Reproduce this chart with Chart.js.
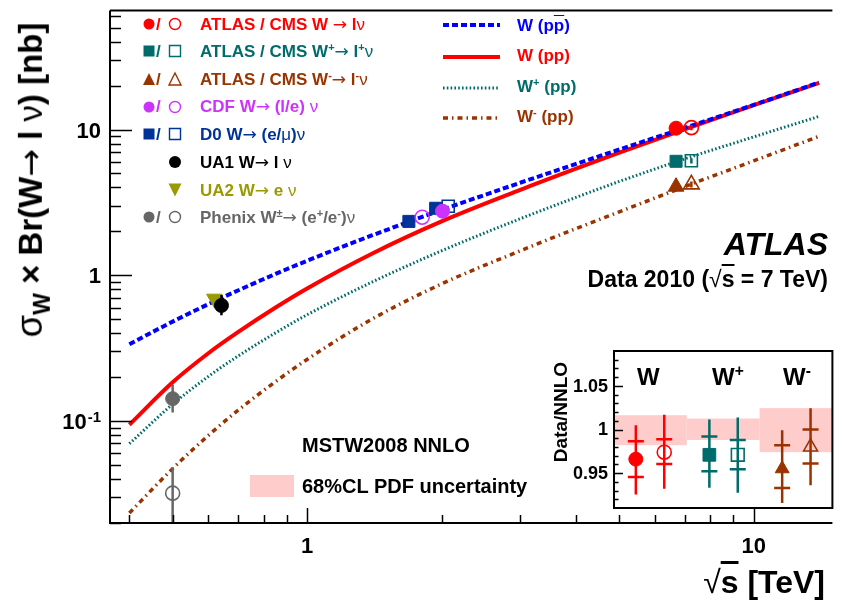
<!DOCTYPE html>
<html>
<head>
<meta charset="utf-8">
<script src="https://cdn.jsdelivr.net/npm/chart.js@4.4.0/dist/chart.umd.min.js"></script>
<style>
  body { margin: 0; background: #fff; }
  #wrap { position: relative; width: 843px; height: 600px; overflow: hidden;
          font-family: "Liberation Sans", Arial, sans-serif; font-weight: bold; }
  canvas { position: absolute; }
  .t { position: absolute; white-space: nowrap; line-height: 1; }
  .sup { font-size: 0.65em; position: relative; top: -0.55em; }
  .gr { font-weight: normal; }
  .ar { font-family: "DejaVu Sans", sans-serif; font-weight: normal; }
  .leg { font-size: 17px; }
</style>
</head>
<body>
<div id="wrap">
  <canvas id="main" width="843" height="600" style="left:0;top:0"></canvas>
  <canvas id="inset" width="303" height="180" style="left:540px;top:340px"></canvas>

  <!-- legend, left column -->
  <div class="t leg" style="left:156px;top:15.6px;color:#f00">/</div>
  <div class="t leg" style="left:200px;top:15.6px;color:#f00">ATLAS / CMS W <span class="ar">→</span> l<span class="gr">ν</span></div>
  <div class="t leg" style="left:156px;top:42.9px;color:#006b6b">/</div>
  <div class="t leg" style="left:200px;top:42.9px;color:#006b6b">ATLAS / CMS W<span class="sup">+</span><span class="ar">→</span> l<span class="sup">+</span><span class="gr">ν</span></div>
  <div class="t leg" style="left:156px;top:70.6px;color:#993300">/</div>
  <div class="t leg" style="left:200px;top:70.6px;color:#993300">ATLAS / CMS W<span class="sup">-</span><span class="ar">→</span> l<span class="sup">-</span><span class="gr">ν</span></div>
  <div class="t leg" style="left:156px;top:98.3px;color:#cc33ff">/</div>
  <div class="t leg" style="left:200px;top:98.3px;color:#cc33ff">CDF W<span class="ar">→</span> (l/e) <span class="gr">ν</span></div>
  <div class="t leg" style="left:156px;top:125.6px;color:#003399">/</div>
  <div class="t leg" style="left:200px;top:125.6px;color:#003399">D0 W<span class="ar">→</span> (e/<span class="gr">μ</span>)<span class="gr">ν</span></div>
  <div class="t leg" style="left:200px;top:153.9px;color:#000">UA1 W<span class="ar">→</span> l <span class="gr">ν</span></div>
  <div class="t leg" style="left:200px;top:181.6px;color:#999900">UA2 W<span class="ar">→</span> e <span class="gr">ν</span></div>
  <div class="t leg" style="left:156px;top:208.9px;color:#666">/</div>
  <div class="t leg" style="left:200px;top:208.9px;color:#666">Phenix W<span class="sup">±</span><span class="ar">→</span> (e<span class="sup">+</span>/e<span class="sup">-</span>)<span class="gr">ν</span></div>

  <!-- legend, right column -->
  <div class="t leg" style="left:517px;top:16.6px;color:#00f">W (p<span style="text-decoration:overline">p</span>)</div>
  <div class="t leg" style="left:517px;top:46.6px;color:#f00">W (pp)</div>
  <div class="t leg" style="left:517px;top:77.6px;color:#006b6b">W<span class="sup">+</span> (pp)</div>
  <div class="t leg" style="left:517px;top:107.6px;color:#993300">W<span class="sup">-</span> (pp)</div>

  <!-- axis titles -->
  <div class="t" style="left:30px;top:180px;font-size:33px;transform:translate(-50%,-50%) rotate(-90deg)"><span class="gr" style="font-size:1.1em">σ</span><span style="font-size:0.7em;position:relative;top:0.35em">W</span> × Br(W<span class="ar">→</span> l <span class="gr">ν</span>) [nb]</div>
  <div class="t" style="right:18px;top:566px;font-size:32px"><span class="gr">√</span><span style="text-decoration:overline">s</span> [TeV]</div>

  <!-- labels -->
  <div class="t" style="right:15px;top:228px;font-size:32px;font-style:italic">ATLAS</div>
  <div class="t" style="right:15px;top:267.5px;font-size:23px">Data 2010 (<span class="gr">√</span><span style="text-decoration:overline">s</span> = 7 TeV)</div>
  <div class="t" style="left:302px;top:435px;font-size:20px">MSTW2008 NNLO</div>
  <div style="position:absolute;left:250px;top:475px;width:44px;height:22px;background:#ffcccc"></div>
  <div class="t" style="left:302px;top:476px;font-size:20px">68%CL PDF uncertainty</div>

  <!-- inset labels -->
  <div class="t" style="left:560px;top:412px;font-size:19px;transform:translate(-50%,-50%) rotate(-90deg)">Data/NNLO</div>
  <div class="t" style="left:637px;top:365px;font-size:24px">W</div>
  <div class="t" style="left:712px;top:365px;font-size:24px">W<span class="sup">+</span></div>
  <div class="t" style="left:783px;top:365px;font-size:24px">W<span class="sup">-</span></div>
</div>

<script>
// ---- theory curves (MSTW2008 NNLO): sqrt(s) [TeV] vs sigma x BR [nb] ----
const energies = [0.4, 0.5, 0.6, 0.7, 0.85, 1, 1.4, 2, 3, 4, 5, 7, 10, 14];
const wPPbar   = [0.336, 0.48, 0.631, 0.785, 1.02, 1.256, 1.88, 2.80, 4.31, 5.80, 7.29, 10.25, 14.76, 21.0];
const wPP      = [0.094, 0.184, 0.290, 0.406, 0.600, 0.811, 1.41, 2.34, 3.85, 5.38, 6.93, 10.03, 14.7, 20.9];
const wPlusPP  = [0.0697, 0.130, 0.201, 0.278, 0.402, 0.535, 0.899, 1.47, 2.44, 3.42, 4.40, 6.28, 8.9, 12.3];
const wMinusPP = [0.0233, 0.047, 0.079, 0.118, 0.186, 0.264, 0.501, 0.871, 1.47, 2.09, 2.72, 4.05, 6.1, 8.97];

// ---- measurements (energies shifted a little for visibility, as in the plot) ----
const lhcE      = [6.7, 7.25];          // ATLAS, CMS
const lhcW      = [10.21, 10.3];
const lhcWplus  = [6.05, 6.1];
const lhcWminus = [4.05, 4.2];
const cmsErrLo  = [9.9, 5.85, 4.0];     // W, W+, W-
const cmsErrHi  = [10.7, 6.35, 4.4];
const cdfE = [2.01, 1.81];               // filled, open
const cdfW = [2.75, 2.50];
const d0E  = [1.69, 1.94, 2.07];         // filled, filled, open
const d0W  = [2.34, 2.88, 2.97];
const ua1E = [0.643], ua1W = [0.62], ua1Lo = [0.53], ua1Hi = [0.73];
const ua2E = [0.62],  ua2W = [0.69];
const phenixE  = [0.5, 0.5];             // filled, open
const phenixW  = [0.142, 0.0319];
const phenixLo = [0.114, 0.0195];
const phenixHi = [0.178, 0.048];

// ---- inset: Data / NNLO ----
const insetPos    = [0.30, 0.69, 1.31, 1.70, 2.31, 2.70];  // ATLAS W, CMS W, ATLAS W+, CMS W+, ATLAS W-, CMS W-
const insetRatio  = [0.966, 0.974, 0.971, 0.971, 0.955, 0.980];
const insetStatLo = [0.9455, 0.9605, 0.952, 0.9544, 0.933, 0.961];
const insetStatHi = [0.9866, 0.9888, 0.992, 0.988, 0.982, 1.000];
const insetTotLo  = [0.9256, 0.932, 0.9333, 0.9276, 0.9157, 0.936];
const insetTotHi  = [1.005, 1.0168, 1.0115, 1.0138, 0.999, 1.0245];
const bandEdges   = [0, 1, 2, 3];
const bandLo      = [0.982, 0.988, 0.974];
const bandHi      = [1.0164, 1.0126, 1.0245];

// ---- tick labels ----
const yTickVals = [0.1, 1, 10];
const yTickBase = ['10', '1', '10'];
const yTickSup  = ['-1', '', ''];
const xTickVals = [1, 10];
const xTickText = ['1', '10'];
const insetTickVals = [0.95, 1, 1.05];
const insetTickText = ['0.95', '1', '1.05'];

// ---- colours ----
const C_RED    = '#ff0000';
const C_TEAL   = '#006b6b';
const C_BROWN  = '#993300';
const C_PURPLE = '#cc33ff';
const C_NAVY   = '#003399';
const C_BLUE   = '#0000ff';
const C_OLIVE  = '#999900';
const C_GREY   = '#666666';
const C_PINK   = '#ffcccc';
const NONE     = 'rgba(0,0,0,0)';
const FONT     = '"Liberation Sans", Arial, sans-serif';

const pts = (xs, ys) => xs.map((x, i) => ({ x, y: ys[i] }));

function markers(data, style, color, filled, r, extra) {
  return Object.assign({
    data, pointStyle: style, pointRadius: r, pointHoverRadius: r,
    backgroundColor: filled ? color : NONE, borderColor: color,
    borderWidth: filled ? 1 : 1.6, showLine: false, order: 1
  }, extra || {});
}

function curve(ys, color, width, dash) {
  return {
    data: pts(energies, ys), showLine: true, borderColor: color, backgroundColor: color,
    borderWidth: width, borderDash: dash, pointRadius: 0, pointHoverRadius: 0,
    cubicInterpolationMode: 'monotone', fill: false, order: 2
  };
}

const DASH_BLUE  = [6, 3];
const DASH_TEAL  = [1.6, 2.2];
const DASH_BROWN = [5, 4, 1.5, 4];

// simple marker for the legend
function drawMarker(ctx, style, x, y, s, color, filled) {
  ctx.save();
  ctx.fillStyle = color; ctx.strokeStyle = color; ctx.lineWidth = 1.4;
  ctx.beginPath();
  if (style === 'circle') ctx.arc(x, y, s / 2, 0, Math.PI * 2);
  else if (style === 'rect') ctx.rect(x - s / 2, y - s / 2, s, s);
  else if (style === 'tri') { ctx.moveTo(x, y - s / 2); ctx.lineTo(x + s / 2, y + s / 2); ctx.lineTo(x - s / 2, y + s / 2); ctx.closePath(); }
  else if (style === 'triDown') { ctx.moveTo(x, y + s / 2); ctx.lineTo(x + s / 2, y - s / 2); ctx.lineTo(x - s / 2, y - s / 2); ctx.closePath(); }
  if (filled) ctx.fill(); else ctx.stroke();
  ctx.restore();
}

// vertical error bars, drawn just before the markers of a dataset
const errorBars = {
  id: 'errorBars',
  beforeDatasetDraw(chart, args) {
    const ds = chart.data.datasets[args.index];
    if (!ds.errLo) return;
    const { ctx, chartArea: a, scales: { x, y } } = chart;
    ctx.save();
    ctx.beginPath(); ctx.rect(a.left, a.top, a.right - a.left, a.bottom - a.top); ctx.clip();
    ctx.strokeStyle = ds.borderColor; ctx.lineWidth = 2.5;
    ctx.beginPath();
    ds.data.forEach((p, i) => {
      const px = x.getPixelForValue(p.x);
      ctx.moveTo(px, y.getPixelForValue(ds.errLo[i]));
      ctx.lineTo(px, y.getPixelForValue(ds.errHi[i]));
    });
    ctx.stroke();
    ctx.restore();
  }
};

// frame, inward ticks, tick labels, legend symbols
const mainFrame = {
  id: 'mainFrame',
  afterDraw(chart) {
    const { ctx, chartArea: a, scales: { x, y } } = chart;
    ctx.save();
    ctx.strokeStyle = '#000'; ctx.lineWidth = 2;
    ctx.beginPath();
    ctx.moveTo(a.left, a.top); ctx.lineTo(a.left, a.bottom); ctx.lineTo(a.right, a.bottom);
    ctx.moveTo(a.left, a.top); ctx.lineTo(a.right, a.top);
    ctx.stroke();

    ctx.lineWidth = 1.5;
    ctx.beginPath();
    [0.01, 0.1, 1, 10].forEach(d => {
      for (let k = 1; k <= 9; k++) {
        const v = k * d;
        if (v < y.min || v > y.max) continue;
        const py = Math.round(y.getPixelForValue(v)) + 0.5;
        ctx.moveTo(a.left, py); ctx.lineTo(a.left + (k === 1 ? 22 : 11), py);
      }
    });
    [0.1, 1, 10].forEach(d => {
      for (let k = 1; k <= 9; k++) {
        const v = k * d;
        if (v < x.min || v > x.max) continue;
        const px = Math.round(x.getPixelForValue(v)) + 0.5;
        ctx.moveTo(px, a.bottom); ctx.lineTo(px, a.bottom - (k === 1 ? 15 : 8));
      }
    });
    ctx.stroke();

    // tick labels
    ctx.fillStyle = '#000';
    ctx.textBaseline = 'alphabetic';
    yTickVals.forEach((v, i) => {
      const py = y.getPixelForValue(v);
      let right = 101;
      if (yTickSup[i]) {
        ctx.font = 'bold 15px ' + FONT; ctx.textAlign = 'right';
        ctx.fillText(yTickSup[i], right, py + 1);
        right -= ctx.measureText(yTickSup[i]).width + 1;
      }
      ctx.font = 'bold 22px ' + FONT; ctx.textAlign = 'right';
      ctx.fillText(yTickBase[i], right, py + 8);
    });
    ctx.textAlign = 'center';
    xTickVals.forEach((v, i) => ctx.fillText(xTickText[i], x.getPixelForValue(v), 553));

    // legend symbols, left column
    const rowsY = [24, 51, 79, 107, 134, 162, 190, 217];
    const legendSyms = [
      ['circle', C_RED, 11], ['rect', C_TEAL, 11], ['tri', C_BROWN, 12],
      ['circle', C_PURPLE, 11], ['rect', C_NAVY, 11]
    ];
    legendSyms.forEach((s, i) => {
      drawMarker(ctx, s[0], 149, rowsY[i], s[2], s[1], true);
      drawMarker(ctx, s[0], 175, rowsY[i], s[2], s[1], false);
    });
    drawMarker(ctx, 'circle', 175, rowsY[5], 12, '#000', true);
    drawMarker(ctx, 'triDown', 175, rowsY[6], 13, C_OLIVE, true);
    drawMarker(ctx, 'circle', 149, rowsY[7], 11, C_GREY, true);
    drawMarker(ctx, 'circle', 175, rowsY[7], 11, C_GREY, false);

    // legend line samples, right column
    const lines = [[25, C_BLUE, 4, DASH_BLUE], [57, C_RED, 4, []], [88, C_TEAL, 3, DASH_TEAL], [118, C_BROWN, 3.5, DASH_BROWN]];
    lines.forEach(l => {
      ctx.strokeStyle = l[1]; ctx.lineWidth = l[2]; ctx.setLineDash(l[3]);
      ctx.beginPath(); ctx.moveTo(443, l[0]); ctx.lineTo(500, l[0]); ctx.stroke();
    });
    ctx.restore();
  }
};

const mainChart = new Chart(document.getElementById('main'), {
  type: 'scatter',
  data: {
    datasets: [
      markers(pts(lhcE.slice(0, 1), lhcW.slice(0, 1)), 'circle', C_RED, true, 7),
      markers(pts(lhcE.slice(1), lhcW.slice(1)), 'circle', C_RED, false, 7, { errLo: [cmsErrLo[0]], errHi: [cmsErrHi[0]] }),
      markers(pts(lhcE.slice(0, 1), lhcWplus.slice(0, 1)), 'rect', C_TEAL, true, 8.5),
      markers(pts(lhcE.slice(1), lhcWplus.slice(1)), 'rect', C_TEAL, false, 8.5, { errLo: [cmsErrLo[1]], errHi: [cmsErrHi[1]] }),
      markers(pts(lhcE.slice(0, 1), lhcWminus.slice(0, 1)), 'triangle', C_BROWN, true, 9),
      markers(pts(lhcE.slice(1), lhcWminus.slice(1)), 'triangle', C_BROWN, false, 9, { errLo: [cmsErrLo[2]], errHi: [cmsErrHi[2]] }),
      markers(pts(cdfE.slice(0, 1), cdfW.slice(0, 1)), 'circle', C_PURPLE, true, 7),
      markers(pts(cdfE.slice(1), cdfW.slice(1)), 'circle', C_PURPLE, false, 7),
      markers(pts(d0E.slice(0, 2), d0W.slice(0, 2)), 'rect', C_NAVY, true, 8.5),
      markers(pts(d0E.slice(2), d0W.slice(2)), 'rect', C_NAVY, false, 8.5),
      markers(pts(ua1E, ua1W), 'circle', '#000', true, 7, { errLo: ua1Lo, errHi: ua1Hi }),
      markers(pts(ua2E, ua2W), 'triangle', C_OLIVE, true, 9, { rotation: 180, pointRotation: 180 }),
      markers(pts(phenixE.slice(0, 1), phenixW.slice(0, 1)), 'circle', C_GREY, true, 7,
              { errLo: phenixLo.slice(0, 1), errHi: phenixHi.slice(0, 1) }),
      markers(pts(phenixE.slice(1), phenixW.slice(1)), 'circle', C_GREY, false, 7,
              { errLo: phenixLo.slice(1), errHi: phenixHi.slice(1) }),
      curve(wPPbar, C_BLUE, 4, DASH_BLUE),
      curve(wPP, C_RED, 4, []),
      curve(wPlusPP, C_TEAL, 3, DASH_TEAL),
      curve(wMinusPP, C_BROWN, 3.5, DASH_BROWN)
    ]
  },
  options: {
    responsive: false,
    animation: false,
    devicePixelRatio: 1,
    layout: { padding: { left: 110, right: 0, top: 7, bottom: 77 } },
    plugins: { legend: { display: false }, tooltip: { enabled: false } },
    scales: {
      x: { type: 'logarithmic', min: 0.362, max: 15.0, display: false },
      y: { type: 'logarithmic', min: 0.0199, max: 65.5, display: false }
    }
  },
  plugins: [errorBars, mainFrame]
});

// ---- inset chart ----
const pdfBands = {
  id: 'pdfBands',
  beforeDatasetsDraw(chart) {
    const { ctx, scales: { x, y } } = chart;
    ctx.save();
    ctx.fillStyle = C_PINK;
    bandLo.forEach((lo, i) => {
      const x0 = x.getPixelForValue(bandEdges[i]), x1 = x.getPixelForValue(bandEdges[i + 1]);
      const y0 = y.getPixelForValue(bandHi[i]), y1 = y.getPixelForValue(lo);
      ctx.fillRect(x0, y0, x1 - x0, y1 - y0);
    });
    ctx.restore();
  }
};

const insetErrors = {
  id: 'insetErrors',
  beforeDatasetDraw(chart, args) {
    const i = args.index;
    const ds = chart.data.datasets[i];
    const { ctx, scales: { x, y } } = chart;
    const px = x.getPixelForValue(insetPos[i]);
    ctx.save();
    ctx.strokeStyle = ds.borderColor; ctx.lineWidth = 2.5;
    ctx.beginPath();
    ctx.moveTo(px, y.getPixelForValue(insetTotLo[i])); ctx.lineTo(px, y.getPixelForValue(insetTotHi[i]));
    [insetStatLo[i], insetStatHi[i]].forEach(v => {
      const py = y.getPixelForValue(v);
      ctx.moveTo(px - 8, py); ctx.lineTo(px + 8, py);
    });
    ctx.stroke();
    ctx.restore();
  }
};

const insetFrame = {
  id: 'insetFrame',
  afterDraw(chart) {
    const { ctx, chartArea: a, scales: { y } } = chart;
    ctx.save();
    ctx.strokeStyle = '#000'; ctx.lineWidth = 2;
    ctx.strokeRect(a.left, a.top, a.right - a.left, a.bottom - a.top);
    ctx.lineWidth = 1.5;
    ctx.beginPath();
    for (let k = 92; k <= 108; k++) {
      const py = Math.round(y.getPixelForValue(k / 100)) + 0.5;
      ctx.moveTo(a.left, py); ctx.lineTo(a.left + (k % 5 === 0 ? 9 : 4.5), py);
    }
    ctx.stroke();
    ctx.fillStyle = '#000';
    ctx.font = 'bold 18px ' + FONT;
    ctx.textAlign = 'right'; ctx.textBaseline = 'middle';
    insetTickVals.forEach((v, i) => ctx.fillText(insetTickText[i], a.left - 6, y.getPixelForValue(v) + 1));
    ctx.restore();
  }
};

const insetLook = [
  ['circle', C_RED, true, 7], ['circle', C_RED, false, 7],
  ['rect', C_TEAL, true, 9], ['rect', C_TEAL, false, 9],
  ['triangle', C_BROWN, true, 8], ['triangle', C_BROWN, false, 8]
];

const insetChart = new Chart(document.getElementById('inset'), {
  type: 'scatter',
  data: {
    datasets: insetLook.map((s, i) =>
      markers([{ x: insetPos[i], y: insetRatio[i] }], s[0], s[1], s[2], s[3]))
  },
  options: {
    responsive: false,
    animation: false,
    devicePixelRatio: 1,
    layout: { padding: { left: 74, right: 8, top: 11, bottom: 12 } },
    plugins: { legend: { display: false }, tooltip: { enabled: false } },
    scales: {
      x: { type: 'linear', min: 0, max: 3, display: false },
      y: { type: 'linear', min: 0.91, max: 1.09, display: false }
    }
  },
  plugins: [pdfBands, insetErrors, insetFrame]
});
</script>
</body>
</html>
